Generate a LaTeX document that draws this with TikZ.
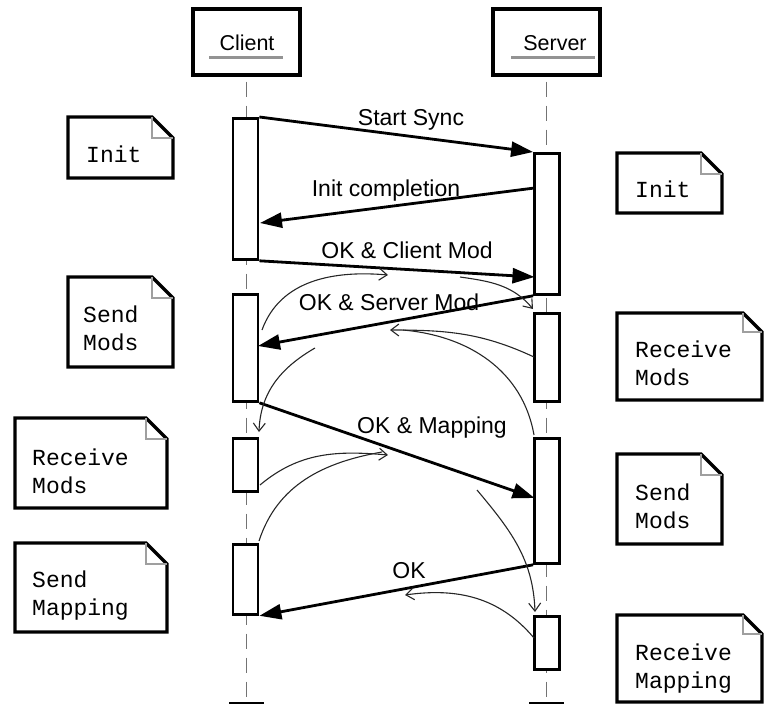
\documentclass[tikz,border=0pt]{standalone}
\usepackage{fontspec}
\setmainfont{Liberation Sans}
\newfontfamily\notefont{Liberation Mono}
\usetikzlibrary{arrows.meta}

% note with a folded corner: x1, top, x2, bottom, fold size
\newcommand\drawnote[5]{%
  \draw[noteline] (#1,-#2) -- ({#3-#5},-#2) -- (#3,{-#2-#5}) -- (#3,-#4) -- (#1,-#4) -- cycle;
  \draw[notefold] ({#3-#5},-#2) -- ({#3-#5},{-#2-#5}) -- (#3,{-#2-#5});}

\begin{document}
\begin{tikzpicture}[x=1pt,y=1pt,
  headbox/.style={draw, line width=3.4pt, minimum width=107pt, minimum height=66pt, inner sep=0pt},
  headtext/.style={font=\fontsize{21.5}{24}\selectfont, inner sep=0pt, anchor=base},
  headline/.style={draw=gray!85, line width=3pt},
  lifeline/.style={draw=gray!90!black, line width=1.8pt, dash pattern=on 15pt off 9pt},
  act/.style={draw, fill=white, line width=2.8pt, minimum width=25pt, inner sep=0pt, anchor=north},
  msg/.style={line width=2.8pt, -{Triangle[length=22pt,width=15pt]}},
  msgtext/.style={font=\fontsize{23}{27}\selectfont, inner sep=0pt, anchor=base},
  flow/.style={line width=1.1pt, draw=black!85, -{Straight Barb[length=8pt,width=12pt]}},
  flowplain/.style={line width=1.1pt, draw=black!85},
  noteline/.style={draw, line width=3.2pt, fill=white, line join=miter},
  notefold/.style={draw=gray!75, line width=2pt},
  notetext/.style={font=\notefont\fontsize{23}{28}\selectfont, inner sep=0pt, anchor=base west, align=left}]

\useasboundingbox (0,0) rectangle (764,-704);

% participants
\node[headbox] (client) at (246.5,-42) {};
\node[headbox] (server) at (546.5,-42) {};
\node[headtext] (clientlbl) at (247,-50) {Client};
\node[headtext] (serverlbl) at (555,-50) {Server};
\draw[headline] (209,-57) -- (283,-57);
\draw[headline] (511,-57) -- (595,-57);

% lifelines
\coordinate (cend) at (246.5,-703);
\coordinate (send) at (546.5,-703);
\draw[lifeline] ([yshift=-5pt]client.south) -- (cend);
\draw[lifeline] ([yshift=-5pt]server.south) -- (send);
\draw[line width=2.4pt] (229,-703) -- (264,-703);
\draw[line width=2.4pt] (529,-703) -- (564,-703);

% activations
\node[act, minimum height=141pt] (ca1) at (245.5,-117) {};
\node[act, minimum height=107pt] (ca2) at (245.5,-293) {};
\node[act, minimum height=53pt]  (ca3) at (245.5,-437) {};
\node[act, minimum height=70pt]  (ca4) at (245.5,-543) {};
\node[act, minimum height=141pt] (sa1) at (547,-152) {};
\node[act, minimum height=88pt]  (sa2) at (547,-312) {};
\node[act, minimum height=125pt] (sa3) at (547,-437) {};
\node[act, minimum height=53pt]  (sa4) at (547,-615) {};

% messages
\coordinate (m2a) at (534.5,-188);
\coordinate (m2b) at (260,-223);
\coordinate (m3b) at (534.5,-277);
\coordinate (m4b) at (258,-346);
\coordinate (m5b) at (534.5,-498);
\draw[msg] (ca1.north east) -- (sa1.north west);
\draw[msg] (m2a) -- (m2b);
\draw[msg] (ca1.south east) -- (m3b);
\draw[msg] (sa1.south west) -- (m4b);
\draw[msg] (ca2.south east) -- (m5b);
\draw[msg] (sa3.south west) -- (ca4.south east);

\node[msgtext] (t1) at (411,-125) {Start Sync};
\node[msgtext] (t2) at (386,-196) {Init completion};
\node[msgtext] (t3) at (407,-258) {OK \& Client Mod};
\node[msgtext] (t4) at (389,-310) {OK \& Server Mod};
\node[msgtext] (t5) at (432,-433) {OK \& Mapping};
\node[msgtext] (t6) at (409,-578) {OK};

% causal flow curves
\coordinate (fa1) at (262,-330);  \coordinate (fa2) at (388,-275);
\coordinate (fb1) at (460,-277);  \coordinate (fb2) at (533,-309);
\coordinate (fc1) at (534,-357);  \coordinate (fc2) at (390,-330);
\coordinate (fd1) at (315,-348);  \coordinate (fd2) at (259,-432);
\coordinate (fe1) at (403,-330);  \coordinate (fe2) at (534,-435);
\coordinate (ff1) at (260,-485);  \coordinate (ff2) at (388,-455);
\coordinate (fg1) at (259,-541);  \coordinate (fg2) at (382,-452);
\coordinate (fh1) at (477,-490);  \coordinate (fh2) at (535,-612);
\coordinate (fi1) at (534,-638);  \coordinate (fi2) at (405,-595);

\draw[flow] (fa1) to[out=70,in=175] (fa2);
\draw[flow] (fb1) to[out=-8,in=130] (fb2);
\draw[flow] (fc1) to[out=155,in=0] (fc2);
\draw[flow] (fd1) to[out=210,in=88] (fd2);
\draw[flowplain] (fe1) to[out=-5,in=100] (fe2);
\draw[flow] (ff1) to[out=40,in=175] (ff2);
\draw[flowplain] (fg1) to[out=72,in=190] (fg2);
\draw[flow] (fh1) to[out=-50,in=92] (fh2);
\draw[flow] (fi1) to[out=130,in=8] (fi2);

% notes, client side (text anchored on the baseline of the last line)
\drawnote{68}{117}{173}{178}{21}
\node[notetext] (n1) at (86,-162) {Init};
\drawnote{68}{277}{173}{367}{21}
\node[notetext] (n2) at (83,-350) {Send\\Mods};
\drawnote{15}{418}{167}{508}{21}
\node[notetext] (n3) at (32,-493) {Receive\\Mods};
\drawnote{15}{543}{167}{632}{21}
\node[notetext] (n4) at (32,-615) {Send\\Mapping};

% notes, server side
\drawnote{617}{153}{722}{213}{21}
\node[notetext] (n5) at (635,-197) {Init};
\drawnote{617}{313}{762}{400}{19}
\node[notetext] (n6) at (635,-385) {Receive\\Mods};
\drawnote{617}{454}{722}{544}{21}
\node[notetext] (n7) at (635,-528) {Send\\Mods};
\drawnote{617}{615}{762}{702}{19}
\node[notetext] (n8) at (635,-688) {Receive\\Mapping};
\end{tikzpicture}
\end{document}
